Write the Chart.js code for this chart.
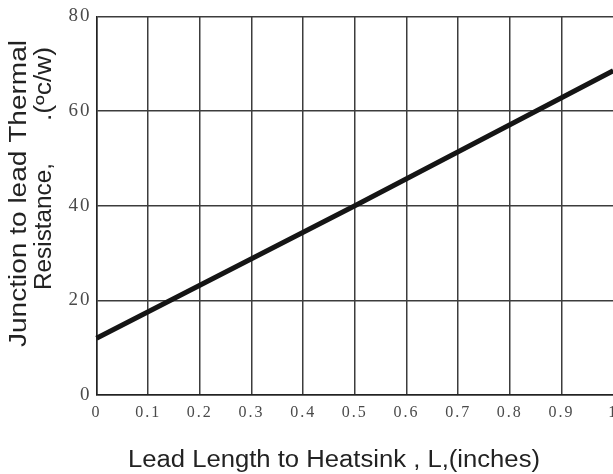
<!DOCTYPE html>
<html>
<head>
<meta charset="utf-8">
<script src="https://cdn.jsdelivr.net/npm/chart.js@4/dist/chart.umd.min.js"></script>
<style>
  html, body { margin: 0; padding: 0; background: #fff; overflow: hidden; }
  #wrap { width: 613px; height: 474px; overflow: hidden; position: relative; }
  #box { width: 640px; height: 474px; }
</style>
</head>
<body>
<div id="wrap"><div id="box"><canvas id="chart"></canvas></div></div>
<script>
  // Lead length (inches) vs junction-to-lead thermal resistance
  const leadLength = [0, 0.5, 1];
  const thermalRes = [12, 40, 68.5];
  const xTicks = [0, 0.1, 0.2, 0.3, 0.4, 0.5, 0.6, 0.7, 0.8, 0.9, 1];
  const yTicks = [0, 20, 40, 60, 80];

  const xTitle = 'Lead Length to Heatsink , L,(inches)';
  const yTitle1 = 'Junction to lead Thermal';
  const yTitle2a = 'Resistance,';
  const yTitle2b = '.(\u00bac/w)';

  const GRID = '#3c3c3c';
  const TICK_COLOR = '#4a4a4a';

  // draw a string stretched to fit a given width
  function fitText(ctx, text, x, y, width, rot) {
    ctx.save();
    ctx.translate(x, y);
    if (rot) ctx.rotate(-Math.PI / 2);
    const w = ctx.measureText(text).width;
    ctx.scale(width / w, 1);
    ctx.fillText(text, 0, 0);
    ctx.restore();
  }

  const titlePlugin = {
    id: 'titles',
    beforeDraw(chart) {
      chart.ctx.letterSpacing = '2px';
    },
    afterDraw(chart) {
      const ctx = chart.ctx;
      ctx.save();
      ctx.letterSpacing = '0px';
      ctx.fillStyle = '#222';
      ctx.font = '23px "Liberation Sans", Arial, sans-serif';
      ctx.textAlign = 'left';
      ctx.textBaseline = 'alphabetic';
      fitText(ctx, xTitle, 128, 467, 412, false);
      fitText(ctx, yTitle1, 26, 347, 307, true);
      fitText(ctx, yTitle2a, 51, 290, 127, true);
      fitText(ctx, yTitle2b, 51, 121, 74, true);
      ctx.restore();
    }
  };

  new Chart(document.getElementById('chart'), {
    type: 'line',
    data: {
      datasets: [{
        data: leadLength.map((x, i) => ({ x, y: thermalRes[i] })),
        borderColor: '#151515',
        borderWidth: 5,
        pointRadius: 0,
        tension: 0,
        clip: false
      }]
    },
    options: {
      responsive: true,
      maintainAspectRatio: false,
      animation: false,
      layout: { padding: { left: 0, top: 12, right: 26.8, bottom: 0 } },
      plugins: { legend: { display: false }, tooltip: { enabled: false } },
      scales: {
        x: {
          type: 'linear',
          min: 0,
          max: 1,
          afterBuildTicks: (s) => { s.ticks = xTicks.map((v) => ({ value: v })); },
          afterFit: (s) => { s.height = 79; },
          grid: {
            color: (c) => (c.tick && c.tick.value === 1 ? 'rgba(0,0,0,0)' : GRID),
            lineWidth: 1.5,
            drawTicks: false
          },
          border: { color: '#222', width: 1.5 },
          ticks: {
            padding: 8,
            color: TICK_COLOR,
            font: { family: '"Liberation Serif", "Times New Roman", serif', size: 16 },
            maxRotation: 0,
            autoSkip: false,
            callback: (v) => String(v)
          }
        },
        y: {
          min: 0,
          max: 80,
          afterBuildTicks: (s) => { s.ticks = yTicks.map((v) => ({ value: v })); },
          afterFit: (s) => { s.width = 96.5; },
          grid: { color: GRID, lineWidth: 1.5, drawTicks: false },
          border: { color: '#222', width: 1.5 },
          ticks: {
            padding: 5,
            color: TICK_COLOR,
            font: { family: '"Liberation Serif", "Times New Roman", serif', size: 19 },
            callback: (v) => String(v)
          }
        }
      }
    },
    plugins: [titlePlugin]
  });
</script>
</body>
</html>
